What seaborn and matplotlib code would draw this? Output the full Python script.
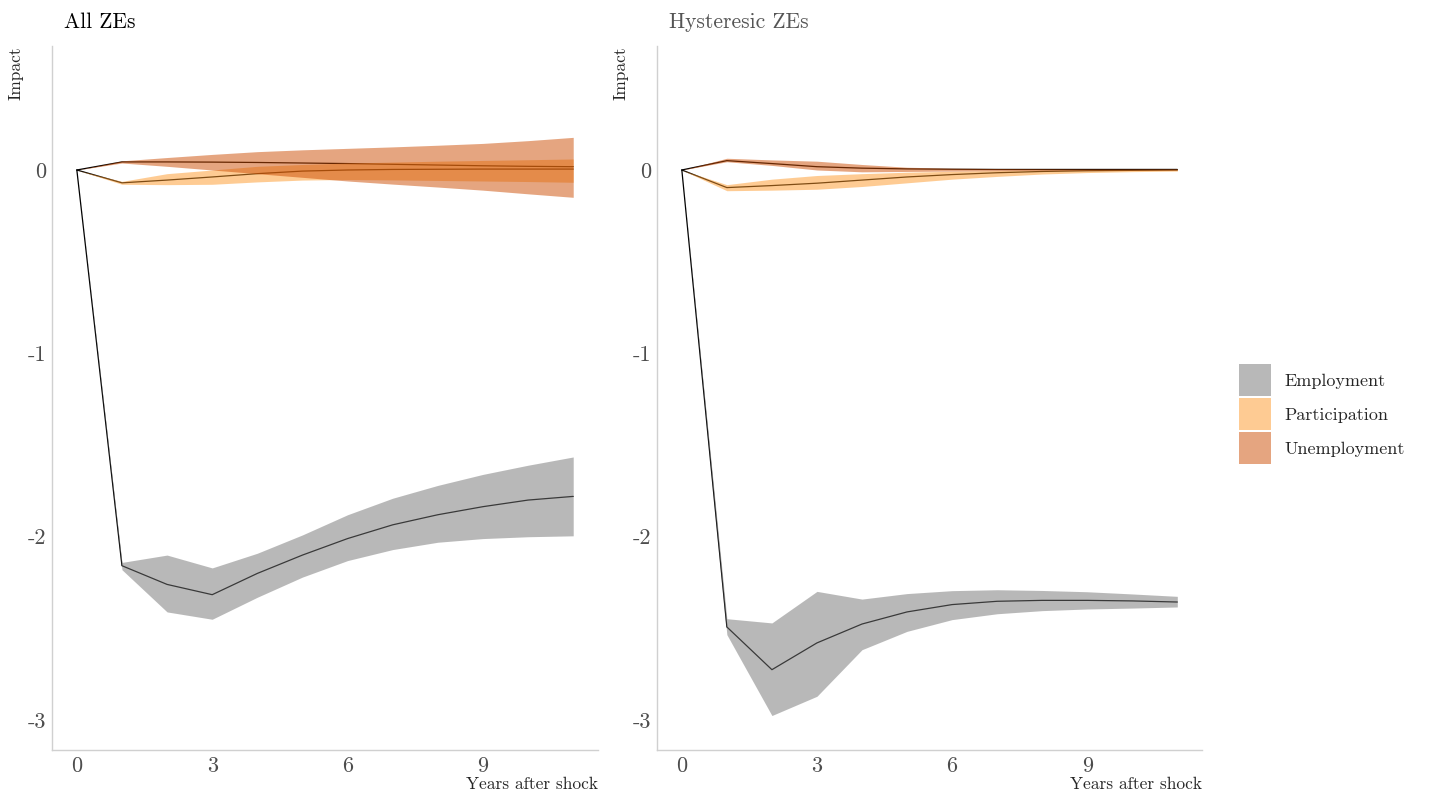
import numpy as np
import pandas as pd
import seaborn as sns
import matplotlib.pyplot as plt
from matplotlib.patches import Patch

horizon = list(range(12))

# All ZEs
all_emp = [0, -2.158, -2.26, -2.316, -2.20, -2.10, -2.01, -1.935, -1.88, -1.836, -1.80, -1.78]
all_emp_lo = [0, -2.18, -2.41, -2.45, -2.33, -2.22, -2.13, -2.07, -2.03, -2.01, -2.0, -1.995]
all_emp_hi = [0, -2.14, -2.10, -2.17, -2.09, -1.99, -1.88, -1.79, -1.72, -1.66, -1.61, -1.565]
all_par = [0, -0.07, -0.055, -0.038, -0.02, -0.006, 0.0, 0.003, 0.004, 0.005, 0.005, 0.005]
all_par_lo = [0, -0.078, -0.08, -0.078, -0.065, -0.055, -0.052, -0.054, -0.057, -0.06, -0.063, -0.067]
all_par_hi = [0, -0.062, -0.02, 0.0, 0.02, 0.03, 0.038, 0.043, 0.048, 0.052, 0.056, 0.06]
all_une = [0, 0.044, 0.044, 0.043, 0.041, 0.038, 0.035, 0.031, 0.027, 0.023, 0.02, 0.018]
all_une_lo = [0, 0.038, 0.02, 0.0, -0.02, -0.04, -0.06, -0.077, -0.093, -0.11, -0.13, -0.149]
all_une_hi = [0, 0.05, 0.068, 0.085, 0.1, 0.11, 0.118, 0.126, 0.135, 0.145, 0.16, 0.178]

# Hysteresic ZEs
hys_emp = [0, -2.492, -2.725, -2.579, -2.476, -2.41, -2.37, -2.352, -2.347, -2.347, -2.35, -2.356]
hys_emp_lo = [0, -2.534, -2.975, -2.87, -2.616, -2.516, -2.452, -2.42, -2.403, -2.394, -2.389, -2.383]
hys_emp_hi = [0, -2.447, -2.47, -2.298, -2.34, -2.31, -2.294, -2.289, -2.293, -2.30, -2.312, -2.325]
hys_par = [0, -0.096, -0.085, -0.072, -0.055, -0.038, -0.025, -0.015, -0.008, -0.004, -0.002, 0.0]
hys_par_lo = [0, -0.113, -0.11, -0.105, -0.09, -0.07, -0.05, -0.035, -0.022, -0.014, -0.009, -0.006]
hys_par_hi = [0, -0.08, -0.05, -0.03, -0.02, -0.012, -0.007, -0.003, 0.0, 0.002, 0.003, 0.004]
hys_une = [0, 0.051, 0.035, 0.018, 0.01, 0.006, 0.004, 0.003, 0.003, 0.003, 0.003, 0.003]
hys_une_lo = [0, 0.045, 0.025, 0.0, -0.01, -0.008, -0.006, -0.004, -0.002, -0.001, 0.0, 0.0]
hys_une_hi = [0, 0.064, 0.055, 0.048, 0.03, 0.015, 0.01, 0.008, 0.007, 0.006, 0.006, 0.006]

variables = ["Employment", "Participation", "Unemployment"]
colors = {"Employment": "#737373", "Participation": "#fe9929", "Unemployment": "#cc4c02"}

rows = []
for panel, series in [
    ("All ZEs", [(all_emp, all_emp_lo, all_emp_hi), (all_par, all_par_lo, all_par_hi), (all_une, all_une_lo, all_une_hi)]),
    ("Hysteresic ZEs", [(hys_emp, hys_emp_lo, hys_emp_hi), (hys_par, hys_par_lo, hys_par_hi), (hys_une, hys_une_lo, hys_une_hi)]),
]:
    for var, (est, lo, hi) in zip(variables, series):
        for h, e, l, u in zip(horizon, est, lo, hi):
            rows.append((panel, var, h, e, l, u))
df = pd.DataFrame(rows, columns=["panel", "variable", "horizon", "estimate", "lower", "upper"])

sns.set_theme(style="white")
plt.rcParams["font.family"] = ["cmr10", "DejaVu Serif"]
plt.rcParams["axes.unicode_minus"] = False
plt.rcParams["mathtext.fontset"] = "cm"

fig = plt.figure(figsize=(14.29, 7.95), dpi=100)
ax1 = fig.add_axes([0.0364, 0.0566, 0.3821, 0.8855])
ax2 = fig.add_axes([0.4598, 0.0566, 0.3814, 0.8855])

for ax, panel, tcolor in [(ax1, "All ZEs", "black"), (ax2, "Hysteresic ZEs", "#555555")]:
    sub = df[df.panel == panel]
    # lines sit under the ribbons, as in the original
    sns.lineplot(data=sub, x="horizon", y="estimate", units="variable", estimator=None,
                 color="black", lw=0.9, ax=ax, legend=False, zorder=0.5)
    for var in variables:
        d = sub[sub.variable == var]
        ax.fill_between(d.horizon, d.lower, d.upper, color=colors[var], alpha=0.5, lw=0, zorder=1)
    ax.set_xlim(-0.55, 11.55)
    ax.set_ylim(-3.163, 0.676)
    ax.set_xticks([0, 3, 6, 9])
    ax.set_yticks([-3, -2, -1, 0])
    ax.set_yticklabels(["-3", "-2", "-1", "0"])
    ax.tick_params(length=0, labelsize=16, labelcolor="#4d4d4d")
    ax.tick_params(axis="x", pad=5)
    ax.tick_params(axis="y", pad=4)
    for s in ["top", "right"]:
        ax.spines[s].set_visible(False)
    for s in ["left", "bottom"]:
        ax.spines[s].set_color("#d0d0d0")
        ax.spines[s].set_linewidth(1)
    ax.set_xlabel("Years after shock", fontsize=12.5, loc="right")
    ax.xaxis.set_label_coords(1.0, -0.038)
    ax.set_ylabel("Impact", fontsize=12.5, loc="top")
    ax.yaxis.set_label_coords(-0.052, 1.0)
    ax.text(0.022, 1.026, panel, transform=ax.transAxes, fontsize=15.5, color=tcolor, va="baseline")

handles = [Patch(facecolor=colors[v], alpha=0.5, lw=0) for v in variables]
fig.legend(handles, variables, loc="upper left", bbox_to_anchor=(0.867, 0.542), frameon=False,
           fontsize=13, handlelength=1.78, handleheight=2.36, labelspacing=0.11,
           handletextpad=0.72, borderpad=0, borderaxespad=0)

fig.savefig("out.png", dpi=100)
